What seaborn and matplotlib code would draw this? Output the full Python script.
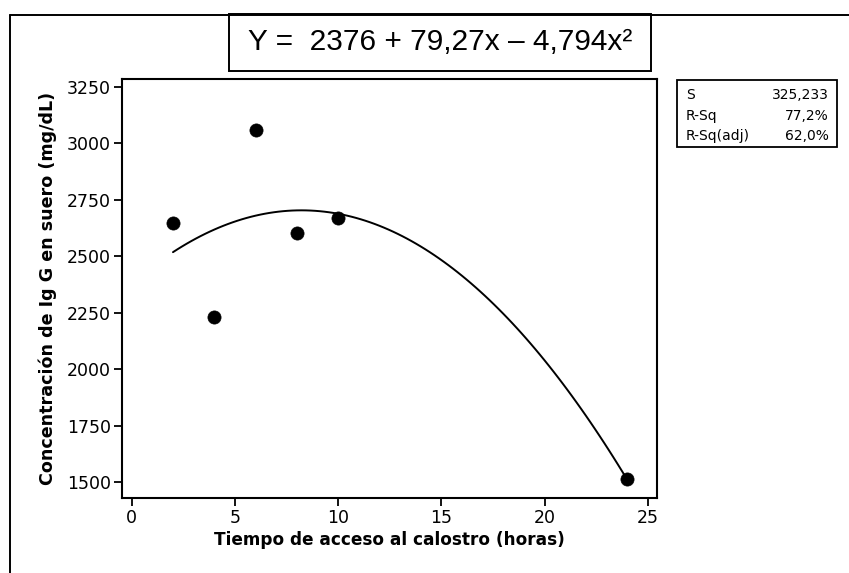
import matplotlib
matplotlib.use("Agg")
import matplotlib.pyplot as plt
from matplotlib.lines import Line2D
from matplotlib.patches import Rectangle
import seaborn as sns
import pandas as pd

# Data
horas = [2, 4, 6, 8, 10, 24]
igg = [2646, 2229, 3059, 2604, 2668, 1512]
x_ticks = [0, 5, 10, 15, 20, 25]
y_ticks = [1500, 1750, 2000, 2250, 2500, 2750, 3000, 3250]
equation = "Y =  2376 + 79,27x – 4,794x²"
stat_names = ["S", "R-Sq", "R-Sq(adj)"]
stat_values = ["325,233", "77,2%", "62,0%"]
x_label = "Tiempo de acceso al calostro (horas)"
y_label = "Concentración de Ig G en suero (mg/dL)"

sns.set_theme(style="white")
plt.rcParams['font.family'] = ['DejaVu Sans']

W, H = 849, 573
fig = plt.figure(figsize=(W / 100, H / 100), dpi=100)
fig.patch.set_facecolor("white")

def fx(px):
    return px / W

def fy(py):
    return 1 - py / H

ax = fig.add_axes([fx(122), fy(498), fx(657) - fx(122), fy(79) - fy(498)])

df = pd.DataFrame({"horas": horas, "igg": igg})
sns.regplot(data=df, x="horas", y="igg", order=2, ci=None, ax=ax,
            scatter_kws=dict(s=90, color="black", edgecolor="black", linewidths=0.5, zorder=3, alpha=1),
            line_kws=dict(color="black", linewidth=1.4))

ax.set_xlim(-0.47, 25.45)
ax.set_ylim(1429, 3285)
ax.set_xticks(x_ticks)
ax.set_yticks(y_ticks)
ax.tick_params(axis="both", which="both", direction="out", length=6, width=1.3,
               color="black", labelcolor="black", labelsize=12.5, pad=2,
               bottom=True, left=True, top=False, right=False)
for sp in ax.spines.values():
    sp.set_color("black")
    sp.set_linewidth(1.5)
ax.set_xlabel(x_label, fontsize=12.2, fontweight="bold", color="black", labelpad=3)
ax.set_ylabel(y_label, fontsize=12.6, fontweight="bold", color="black")
ax.yaxis.set_label_coords(-0.121, 0.5)

# Outer frame lines
fig.add_artist(Line2D([fx(10), fx(10)], [fy(14.5), fy(573)], color="black", linewidth=1.4, transform=fig.transFigure))
fig.add_artist(Line2D([fx(10), fx(849)], [fy(14.5), fy(14.5)], color="black", linewidth=1.4, transform=fig.transFigure))

# Equation box
fig.add_artist(Rectangle((fx(229), fy(70.5)), fx(651) - fx(229), fy(14.5) - fy(70.5),
                         fill=True, facecolor="white", edgecolor="black", linewidth=1.4,
                         transform=fig.transFigure))
fig.text(fx(440), fy(42), equation, ha="center", va="center", fontsize=21.5,
         family=["Liberation Sans", "DejaVu Sans"], color="black")

# Stats box
fig.add_artist(Rectangle((fx(676.5), fy(147)), fx(837) - fx(676.5), fy(80) - fy(147),
                         fill=True, facecolor="white", edgecolor="black", linewidth=1.3,
                         transform=fig.transFigure))
row_y = [95, 116, 136]
for name, val, ry in zip(stat_names, stat_values, row_y):
    fig.text(fx(686), fy(ry), name, ha="left", va="center", fontsize=10, color="black")
    fig.text(fx(829), fy(ry), val, ha="right", va="center", fontsize=10, color="black")

fig.savefig("out.png", dpi=100, facecolor="white")
